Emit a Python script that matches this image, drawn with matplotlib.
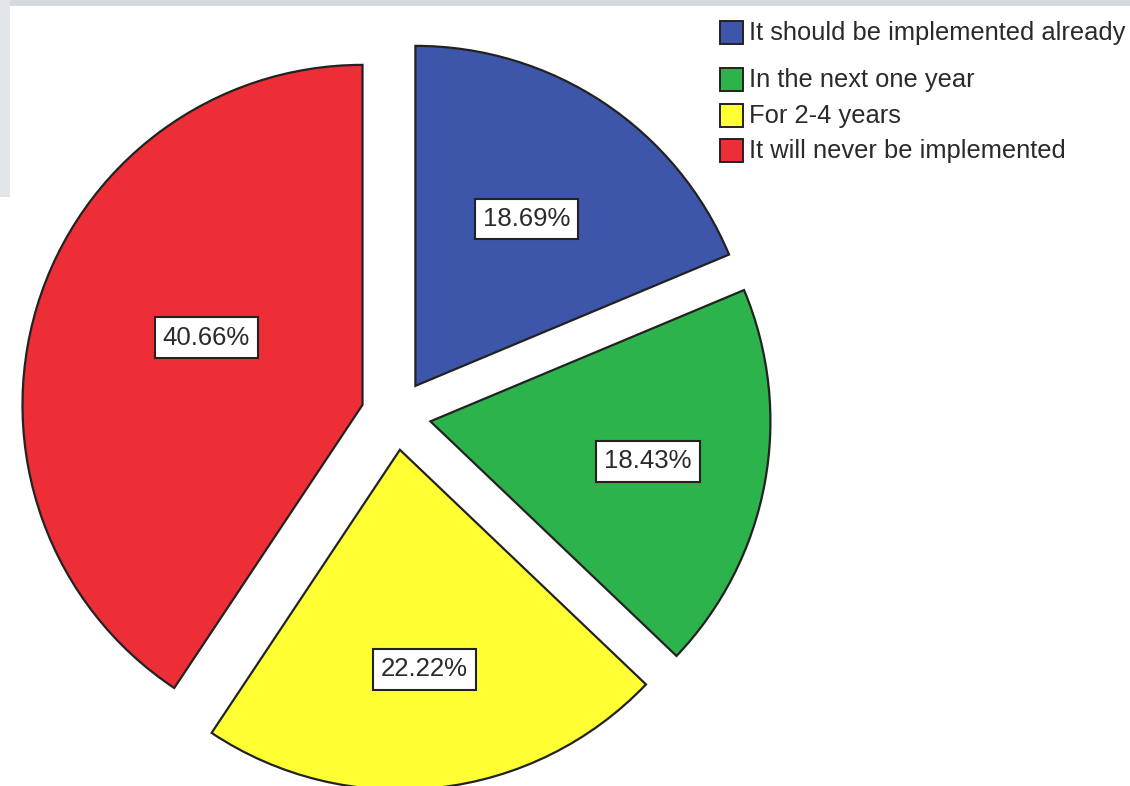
import matplotlib.pyplot as plt
from matplotlib.patches import Rectangle
import numpy as np

# Data
categories = ["It should be implemented already", "In the next one year",
              "For 2-4 years", "It will never be implemented"]
percentages = [18.69, 18.43, 22.22, 40.66]
colors = ["#3D56AA", "#2DB34B", "#FFFF33", "#EE2E37"]
label_dist = [0.59, 0.65, 0.65, 0.50]  # where each % box sits inside its slice
label_turn = [0, 0, 0, -6.5]           # small angular nudge (deg)

plt.rcParams['font.family'] = ['Liberation Sans', 'DejaVu Sans']

fig = plt.figure(figsize=(11.3, 7.86), dpi=100)
ax = fig.add_axes([0, 0, 1, 1])

# pie in pixel-like data units so sizes are easy to match
cx, cy, r, expl = 396, 371, 340, 35
wedges, _ = ax.pie(percentages, colors=colors, startangle=90, counterclock=False,
                   explode=[expl] * 4, radius=r, center=(cx, cy),
                   wedgeprops=dict(edgecolor="#222222", linewidth=1.6))

ax.set_xlim(0, 1130)
ax.set_ylim(0, 786)
ax.set_aspect("equal")
ax.axis("off")

# percentage labels
for w, p, d, t in zip(wedges, percentages, label_dist, label_turn):
    ang = np.deg2rad((w.theta1 + w.theta2) / 2 + t)
    x = w.center[0] + d * r * np.cos(ang)
    y = w.center[1] + d * r * np.sin(ang)
    ax.text(x, y, f"{p:.2f}%", ha="center", va="center", fontsize=18.5, color="#2a2a2a",
            bbox=dict(boxstyle="square,pad=0.32", fc="white", ec="#222222", lw=1.5))

# legend (SPSS style, first entry a bit apart)
leg_y = [753, 706, 670, 635]
for col, lab, y in zip(colors, categories, leg_y):
    ax.add_patch(Rectangle((720, y - 11), 23, 23, fc=col, ec="#222222", lw=1.4))
    ax.text(749, y, lab, ha="left", va="center", fontsize=18.4, color="#2a2a2a")

# grey frame of the screenshot
fig.patches.append(Rectangle((0, 0.992), 1, 0.008, transform=fig.transFigure,
                             fc="#D5D9DD", ec="none"))
fig.patches.append(Rectangle((0, 0.75), 0.009, 0.25, transform=fig.transFigure,
                             fc="#E3E6E9", ec="none"))

plt.savefig("out.png", dpi=100)
